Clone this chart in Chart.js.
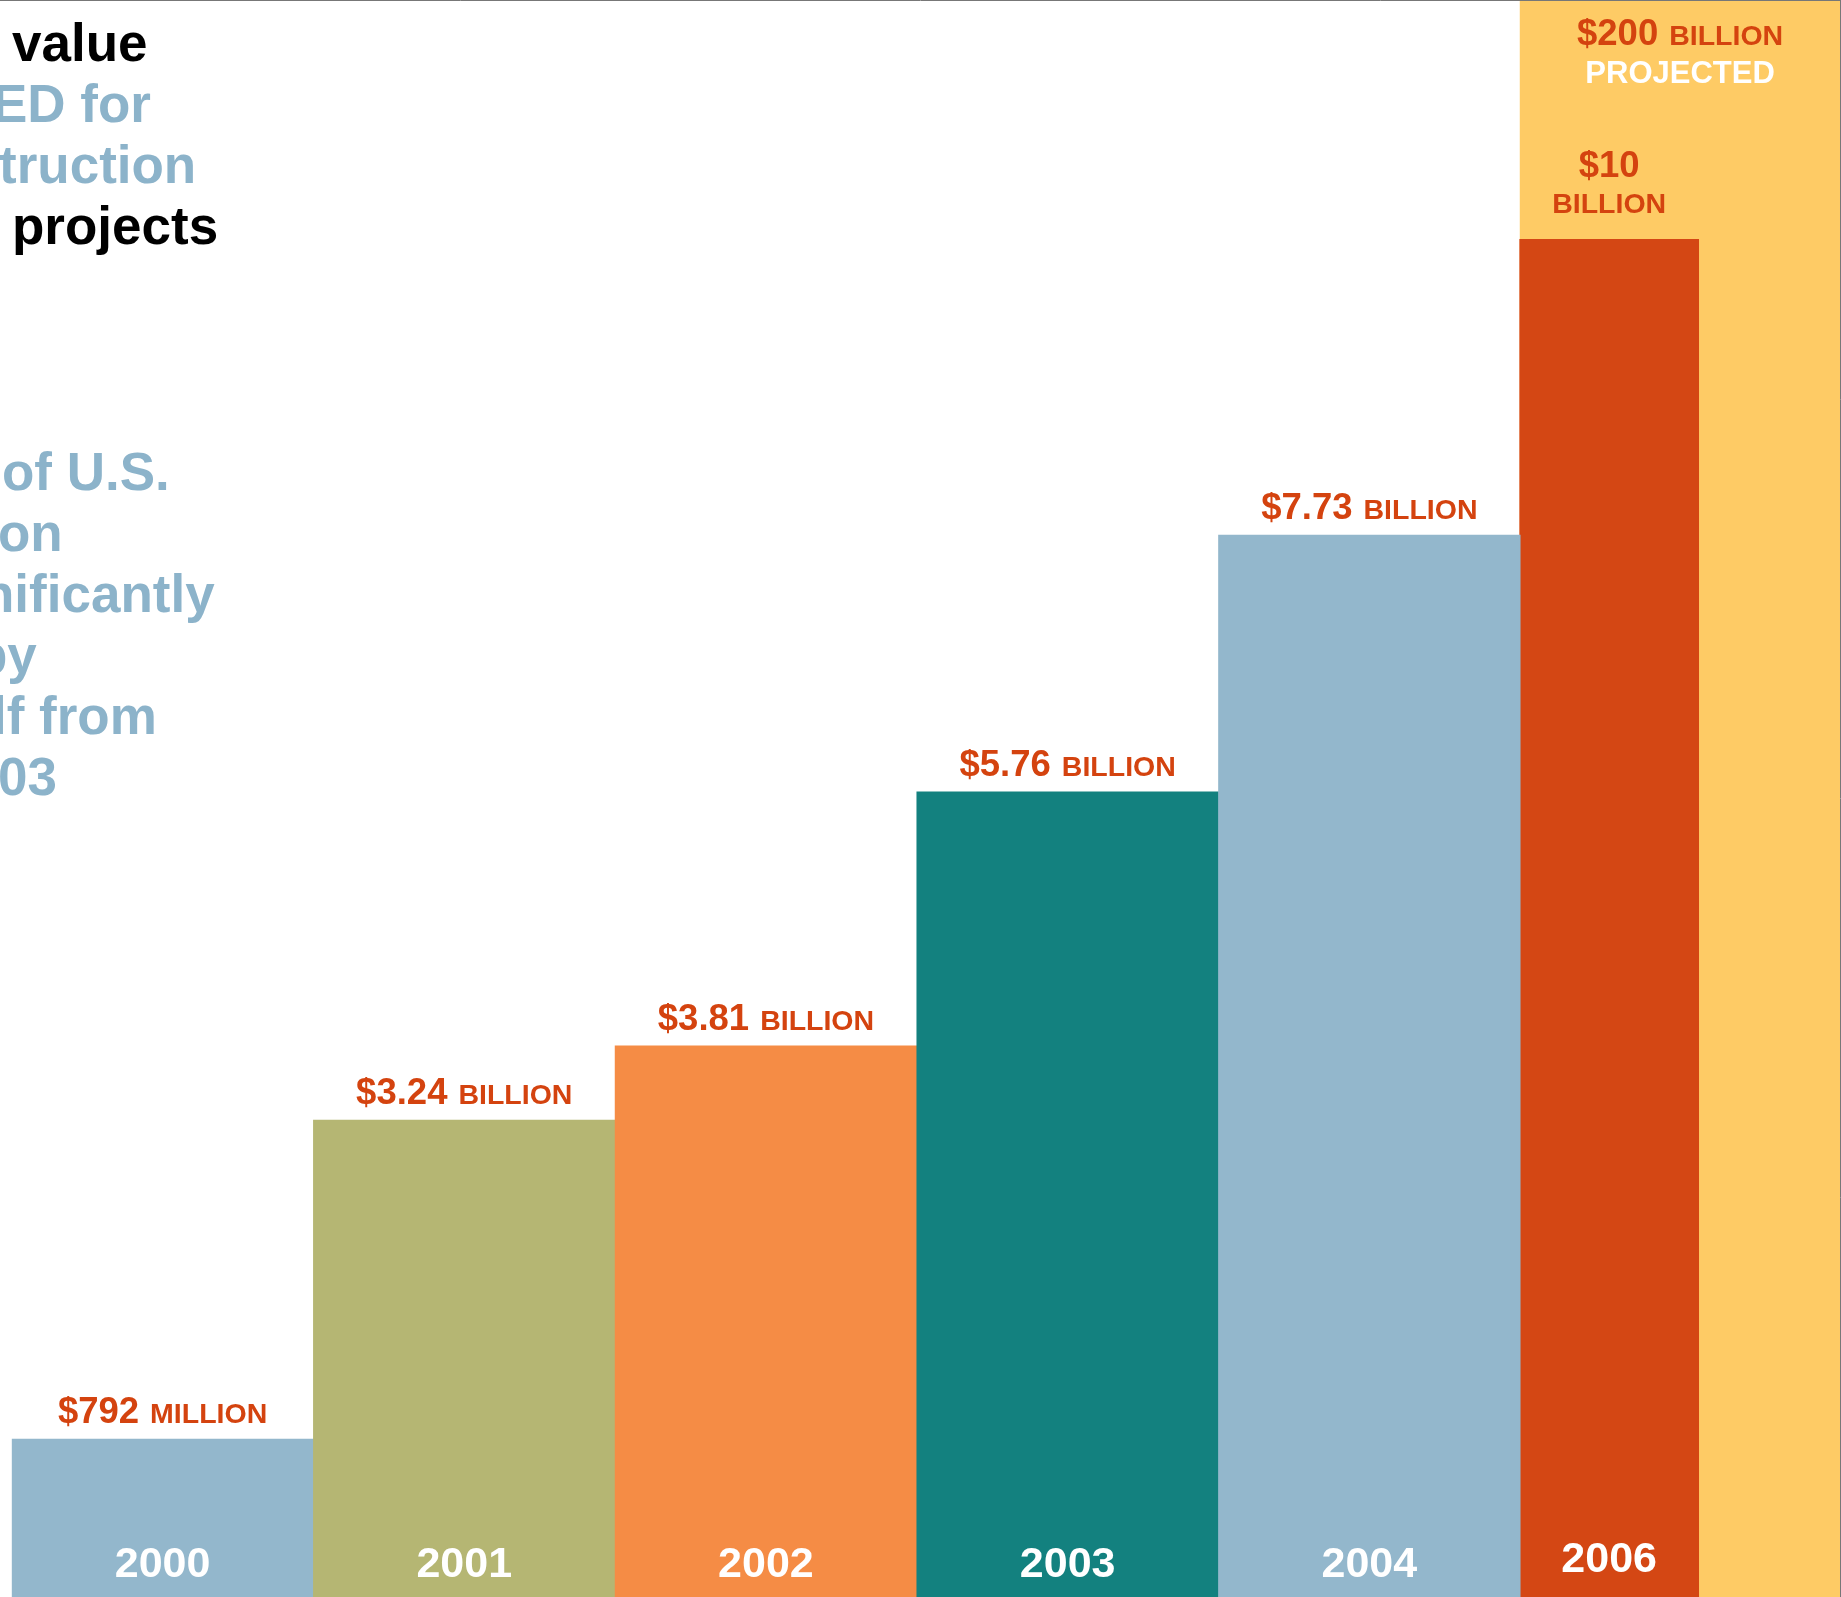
<!DOCTYPE html>
<html>
<head>
<meta charset="utf-8">
<script src="https://cdn.jsdelivr.net/npm/chart.js@4.4.1/dist/chart.umd.min.js"></script>
<style>
  html, body { margin: 0; padding: 0; background: #fff; }
  canvas { display: block; }
</style>
</head>
<body>
<canvas id="awards" width="1841" height="1597"></canvas>
<script>
// contract awards per year (billions of dollars)
var years = ['2000', '2001', '2002', '2003', '2004', '2006'];
var awarded = [0.792, 3.24, 3.81, 5.76, 7.73, 10];
var amountText = ['$792', '$3.24', '$3.81', '$5.76', '$7.73', '$10'];
var unitText = ['MILLION', 'BILLION', 'BILLION', 'BILLION', 'BILLION', 'BILLION'];
var projected = [200];
var projectedText = ['$200', 'BILLION', 'PROJECTED'];

var barColors = ['#93b7cc', '#b5b673', '#f58c45', '#13817f', '#93b7cc', '#d44714'];
var RED = '#d4430f';
var YELLOW = '#fecb65';
var BLUE_TEXT = '#8cb3ca';
var FONT = '"Liberation Sans", Arial, Helvetica, sans-serif';

// value axis starts a bit below zero so the smallest bar still reads
var Y_MIN = -0.42, Y_MAX = 11.83;
// one unit per year; the 2006 column runs from 4.5 to the right edge
var X_MIN = -0.5, X_MAX = 5.56;
var awardedCenter = 4.5 + 0.59 / 2;
var projectedCenter = (4.5 + X_MAX) / 2;

// the left-hand caption lines
var captionTop = [
  { text: 'value', x: 12, y: 61, color: '#000' },
  { text: 'ED for', x: -8, y: 122, color: BLUE_TEXT },
  { text: 'truction', x: -1, y: 183, color: BLUE_TEXT },
  { text: 'projects', x: 12, y: 244, color: '#000' }
];
var captionLow = [
  { text: 'of U.S.', x: 2, y: 490 },
  { text: 'on', x: -2, y: 551 },
  { text: 'nificantly', x: -18, y: 612 },
  { text: 'by', x: -25, y: 673 },
  { text: 'lf from', x: -8, y: 734 },
  { text: '03', x: -2, y: 795 }
];

function drawPair(ctx, big, small, cx, baseline, bigSize, smallSize, gap) {
  ctx.font = 'bold ' + bigSize + 'px ' + FONT;
  var w1 = ctx.measureText(big).width;
  ctx.font = 'bold ' + smallSize + 'px ' + FONT;
  var w2 = ctx.measureText(small).width;
  var x = cx - (w1 + gap + w2) / 2;
  ctx.textAlign = 'left';
  ctx.font = 'bold ' + bigSize + 'px ' + FONT;
  ctx.fillText(big, x, baseline);
  ctx.font = 'bold ' + smallSize + 'px ' + FONT;
  ctx.fillText(small, x + w1 + gap, baseline);
}

var labelsPlugin = {
  id: 'barLabels',
  afterDatasetsDraw: function (chart) {
    var ctx = chart.ctx;
    var area = chart.chartArea;
    var main = chart.getDatasetMeta(0).data;
    var last = chart.getDatasetMeta(1).data[0];
    var proj = chart.getDatasetMeta(2).data[0];
    ctx.save();
    ctx.textBaseline = 'alphabetic';

    // amounts above each bar
    ctx.fillStyle = RED;
    main.forEach(function (bar, i) {
      drawPair(ctx, amountText[i], unitText[i], bar.x, bar.y - 16, 36.5, 28.5, 11);
    });
    ctx.textAlign = 'center';
    ctx.font = 'bold 36.5px ' + FONT;
    ctx.fillText(amountText[5], last.x, last.y - 62);
    ctx.font = 'bold 28.5px ' + FONT;
    ctx.fillText(unitText[5], last.x, last.y - 26);

    // projection note at the top of the 2006 column
    drawPair(ctx, projectedText[0], projectedText[1], proj.x, area.top + 44, 36.5, 28.5, 11);
    ctx.fillStyle = '#fff';
    ctx.textAlign = 'center';
    ctx.font = 'bold 31px ' + FONT;
    ctx.fillText(projectedText[2], proj.x, area.top + 82);

    // years inside the bars
    ctx.font = 'bold 43px ' + FONT;
    main.forEach(function (bar, i) {
      ctx.fillText(years[i], bar.x, area.bottom - 20);
    });
    ctx.fillText(years[5], last.x, area.bottom - 25);

    // caption down the left side
    ctx.textAlign = 'left';
    ctx.font = 'bold 53px ' + FONT;
    captionTop.forEach(function (l) {
      ctx.fillStyle = l.color;
      ctx.fillText(l.text, l.x, l.y);
    });
    ctx.fillStyle = BLUE_TEXT;
    captionLow.forEach(function (l) {
      ctx.fillText(l.text, l.x, l.y);
    });

    // frame
    ctx.strokeStyle = '#777';
    ctx.lineWidth = 1;
    ctx.beginPath();
    ctx.moveTo(0, 0.5);
    ctx.lineTo(chart.width, 0.5);
    ctx.moveTo(chart.width - 0.5, 0);
    ctx.lineTo(chart.width - 0.5, chart.height);
    ctx.stroke();
    ctx.restore();
  }
};

var ctx = document.getElementById('awards').getContext('2d');
var awardsChart = new Chart(ctx, {
  type: 'bar',
  data: {
    datasets: [
      {
        label: 'Awarded',
        xAxisID: 'x',
        data: years.slice(0, 5).map(function (y, i) { return { x: i, y: awarded[i] }; }),
        backgroundColor: barColors.slice(0, 5),
        grouped: false,
        barPercentage: 1,
        categoryPercentage: 1,
        base: Y_MIN,
        order: 1
      },
      {
        label: 'Awarded 2006',
        xAxisID: 'xp',
        data: [{ x: awardedCenter, y: awarded[5] }],
        backgroundColor: barColors[5],
        grouped: false,
        barThickness: 179,
        base: Y_MIN,
        order: 1
      },
      {
        label: 'Projected',
        xAxisID: 'xp',
        data: [{ x: projectedCenter, y: projected[0] }],
        backgroundColor: YELLOW,
        grouped: false,
        barThickness: 320,
        base: Y_MIN,
        order: 2
      }
    ]
  },
  options: {
    responsive: false,
    animation: false,
    layout: { padding: { left: 11.7, top: 1, right: 1, bottom: 0 } },
    plugins: {
      legend: { display: false },
      tooltip: { enabled: false },
      title: { display: false }
    },
    scales: {
      x: {
        type: 'linear', min: X_MIN, max: X_MAX, offset: false, display: false,
        ticks: { stepSize: 1, includeBounds: false },
        grid: { display: false }
      },
      xp: {
        type: 'linear', min: X_MIN, max: X_MAX, offset: false, display: false,
        ticks: { stepSize: 1, includeBounds: false },
        grid: { display: false }
      },
      y: {
        min: Y_MIN, max: Y_MAX, display: false,
        grid: { display: false }
      }
    }
  },
  plugins: [labelsPlugin]
});
</script>
</body>
</html>
